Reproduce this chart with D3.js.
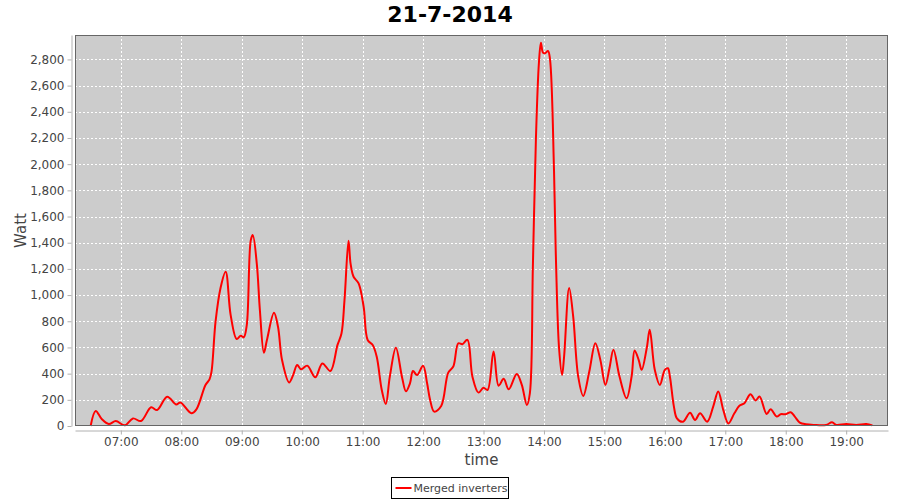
<!DOCTYPE html>
<html>
<head>
<meta charset="utf-8">
<script src="https://cdn.jsdelivr.net/npm/d3@7"></script>
<style>
  body { margin: 0; background: #fff; }
  svg { display: block; font-family: "DejaVu Sans", sans-serif; }
</style>
</head>
<body>
<div id="chart"></div>
<script>
// readings (time of day, Watt) taken off the plot
const times = ["06:30","06:35","06:41","06:48","06:55","07:04","07:12","07:20","07:30","07:36",
  "07:46","07:55","07:59","08:10","08:15","08:24","08:28","08:30","08:34","08:39",
  "08:44","08:49","08:55","08:59","09:02","09:05","09:09","09:11","09:15","09:18",
  "09:22","09:25","09:32","09:36","09:40","09:47","09:51","09:55","09:59","10:05",
  "10:13","10:20","10:28","10:35","10:39","10:42","10:46","10:48","10:51","10:56",
  "11:01","11:05","11:10","11:14","11:19","11:23","11:27","11:33","11:39","11:43",
  "11:47","11:50","11:54","12:00","12:04","12:07","12:11","12:18","12:25","12:30",
  "12:35","12:39","12:44","12:49","12:55","13:00","13:04","13:10","13:15","13:20",
  "13:25","13:33","13:38","13:43","13:46","13:49","13:52","13:55","13:57","13:59",
  "14:01","14:04","14:06","14:10","14:12","14:15","14:18","14:20","14:25","14:29",
  "14:34","14:39","14:45","14:51","14:56","15:01","15:05","15:09","15:15","15:22",
  "15:27","15:30","15:34","15:37","15:42","15:45","15:50","15:55","16:00","16:03",
  "16:05","16:09","16:12","16:18","16:25","16:30","16:35","16:42","16:48","16:53",
  "16:58","17:03","17:09","17:14","17:19","17:25","17:30","17:34","17:41","17:45",
  "17:51","17:55","18:00","18:05","18:09","18:14","18:20","18:28","18:40","18:46",
  "18:50","19:00","19:10","19:20","19:26"];
const watts = [0,115,53,15,38,5,58,38,143,122,
  224,165,180,97,127,313,356,415,797,1056,
  1178,847,664,690,677,771,1420,1458,1235,886,
  560,657,865,758,504,333,389,466,433,461,
  372,478,420,618,707,962,1415,1242,1140,1089,
  911,657,618,529,275,168,377,598,377,265,
  326,420,389,461,326,199,110,153,408,454,
  632,625,658,377,255,293,275,569,308,360,
  280,398,314,161,250,1219,2189,2775,2928,2852,
  2847,2865,2801,1946,1245,594,390,531,1054,837,
  378,230,416,633,505,314,441,582,378,212,
  378,577,505,429,594,735,429,314,429,441,
  378,148,59,33,101,46,97,33,148,264,
  123,20,97,154,174,243,195,225,92,128,
  72,90,90,105,72,26,13,8,8,28,
  8,15,8,15,5];
const xTickLabels = ["07:00","08:00","09:00","10:00","11:00","12:00","13:00",
  "14:00","15:00","16:00","17:00","18:00","19:00"];
const yTicks = [0,200,400,600,800,1000,1200,1400,1600,1800,2000,2200,2400,2600,2800];
const chartTitle = "21-7-2014";
const seriesName = "Merged inverters";

const W = 900, H = 500;
const plot = {left: 75, right: 888, top: 35, bottom: 426};

const parseT = d3.timeParse("%Y-%m-%d %H:%M");
const day = "2014-07-21 ";
const data = times.map((t, i) => ({t: parseT(day + t), v: watts[i]}));

const svg = d3.select("#chart").append("svg")
  .attr("width", W).attr("height", H);

// domain with 2% margins like the original
const t0 = d3.min(data, d => d.t), t1 = d3.max(data, d => d.t);
const span = t1 - t0;
const x = d3.scaleTime()
  .domain([new Date(+t0 - span * 0.02), new Date(+t1 + span * 0.02)])
  .range([plot.left, plot.right]);
const y = d3.scaleLinear()
  .domain([0, d3.max(data, d => d.v) * 1.02])
  .range([plot.bottom, plot.top]);

const xTicks = xTickLabels.map(s => parseT(day + s));

// plot background
svg.append("rect")
  .attr("x", plot.left).attr("y", plot.top)
  .attr("width", plot.right - plot.left).attr("height", plot.bottom - plot.top)
  .attr("fill", "#cccccc");

// gridlines
svg.append("g").selectAll("line").data(yTicks).enter().append("line")
  .attr("x1", plot.left).attr("x2", plot.right)
  .attr("y1", d => Math.round(y(d)) + 0.5).attr("y2", d => Math.round(y(d)) + 0.5)
  .attr("stroke", "#ffffff").attr("stroke-width", 1).attr("stroke-dasharray", "2,2");
svg.append("g").selectAll("line").data(xTicks).enter().append("line")
  .attr("y1", plot.top).attr("y2", plot.bottom)
  .attr("x1", d => Math.round(x(d)) + 0.5).attr("x2", d => Math.round(x(d)) + 0.5)
  .attr("stroke", "#ffffff").attr("stroke-width", 1).attr("stroke-dasharray", "2,2");

// the series
const line = d3.line()
  .x(d => x(d.t)).y(d => y(d.v))
  .curve(d3.curveCatmullRom.alpha(0.5));
svg.append("path").datum(data)
  .attr("d", line)
  .attr("fill", "none")
  .attr("stroke", "#ff0000")
  .attr("stroke-width", 2)
  .attr("stroke-linejoin", "round");

// plot outline
svg.append("rect")
  .attr("x", plot.left + 0.5).attr("y", plot.top + 0.5)
  .attr("width", plot.right - plot.left - 1).attr("height", plot.bottom - plot.top - 1)
  .attr("fill", "none").attr("stroke", "#666666").attr("stroke-width", 1);

// axes
const yAxis = d3.axisLeft(y).tickValues(yTicks).tickFormat(d3.format(","))
  .tickSizeInner(4).tickSizeOuter(0).tickPadding(3);
const gy = svg.append("g")
  .attr("transform", "translate(" + (plot.left - 3.5) + ",0)")
  .call(yAxis);

const xAxis = d3.axisBottom(x).tickValues(xTicks).tickFormat(d3.timeFormat("%H:%M"))
  .tickSizeInner(4).tickSizeOuter(0).tickPadding(3);
const gx = svg.append("g")
  .attr("transform", "translate(0," + (plot.bottom + 4.5) + ")")
  .call(xAxis);

[gx, gy].forEach(g => {
  g.select(".domain").attr("stroke", "#b0b0b0");
  g.selectAll(".tick line").attr("stroke", "#b0b0b0");
  g.selectAll(".tick text")
    .attr("fill", "#444444")
    .style("font-family", "'DejaVu Sans', sans-serif")
    .style("font-size", "12px");
});

// title and axis labels
svg.append("text")
  .attr("x", W / 2).attr("y", 22)
  .attr("text-anchor", "middle")
  .style("font-size", "22px").style("font-weight", "bold")
  .attr("fill", "#000")
  .text(chartTitle);

svg.append("text")
  .attr("transform", "translate(26," + ((plot.top + plot.bottom) / 2) + ") rotate(-90)")
  .attr("text-anchor", "middle")
  .style("font-size", "15px")
  .attr("fill", "#444444")
  .text("Watt");

svg.append("text")
  .attr("x", (plot.left + plot.right) / 2).attr("y", 465)
  .attr("text-anchor", "middle")
  .style("font-size", "15px")
  .attr("fill", "#444444")
  .text("time");

// legend
const lg = svg.append("g").attr("transform", "translate(391.5,477.5)");
lg.append("rect")
  .attr("width", 117).attr("height", 21)
  .attr("fill", "#fff").attr("stroke", "#000").attr("stroke-width", 1);
lg.append("line")
  .attr("x1", 4).attr("x2", 20).attr("y1", 10.5).attr("y2", 10.5)
  .attr("stroke", "#ff0000").attr("stroke-width", 2);
lg.append("text")
  .attr("x", 22).attr("y", 14.5)
  .style("font-size", "11px")
  .attr("fill", "#444444")
  .text(seriesName);
</script>
</body>
</html>
